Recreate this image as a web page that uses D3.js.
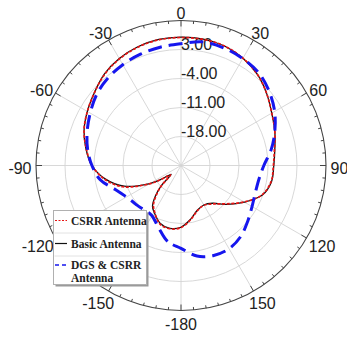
<!DOCTYPE html>
<html>
<head>
<meta charset="utf-8">
<script src="https://cdn.jsdelivr.net/npm/d3@7"></script>
<style>
  html, body { margin: 0; padding: 0; background: #fff; }
  svg { display: block; }
</style>
</head>
<body>
<div id="chart"></div>
<script>
// angles in degrees, 0 at top, clockwise
const angles = [-180, -170, -160, -150, -145, -140, -136, -132, -128, -124, -120, -110, -100, -90,
  -80, -70, -60, -50, -40, -30, -20, -10, 0, 10, 20, 30, 40, 50, 60, 70, 80, 90,
  100, 110, 120, 130, 140, 150, 160, 170];

// gain values (dB)
const csrrValues = [-10.0, -9.5, -10.0, -12.2, -13.4, -15.8, -18.2, -21.6, -20.7, -18.5, -16.1, -10.0, -6.2, -3.5,
  -1.8, -0.1, 1.1, 2.3, 3.7, 4.7, 5.4, 5.8, 5.9, 5.9, 5.7, 4.9, 3.7, 2.0, 0.3, -0.9, -2.1, -2.7,
  -2.9, -4.2, -7.4, -10.6, -12.9, -13.9, -13.4, -11.7];

const basicValues = [-10.1, -9.6, -10.2, -12.0, -13.0, -15.4, -18.0, -21.8, -20.9, -18.7, -16.3, -10.4, -6.4, -3.5,
  -1.7, -0.1, 1.1, 2.3, 3.8, 4.8, 5.5, 5.9, 6.0, 6.0, 5.7, 4.9, 3.7, 2.0, 0.3, -0.9, -2.0, -2.6,
  -2.8, -4.1, -7.3, -10.4, -13.1, -14.0, -13.5, -11.8];

const dgsValues = [-5.0, -6.4, -9.1, -11.0, -11.2, -11.1, -10.9, -10.7, -10.5, -10.2, -9.8, -8.1, -5.2, -3.5,
  -2.1, -0.9, 0.3, 1.6, 2.5, 3.1, 3.6, 4.0, 4.4, 5.3, 5.2, 4.8, 4.2, 2.8, 1.1, -0.9, -2.9, -5.0,
  -5.9, -5.9, -5.2, -4.0, -2.6, -1.8, -1.9, -2.8];

const ringValues = [-18, -11, -4, 3];
const angleTicks = [0, 30, 60, 90, 120, 150, 180, -150, -120, -90, -60, -30];
const angleTickLabels = ["0", "30", "60", "90", "120", "150", "-180", "-150", "-120", "-90", "-60", "-30"];

const legendItems = [
  { name: ["CSRR Antenna"], key: "csrr" },
  { name: ["Basic Antenna"], key: "basic" },
  { name: ["DGS & CSRR", "Antenna"], key: "dgs" },
];

const styles = {
  csrr: { stroke: "#e81414", width: 1.7, dash: "3,1.6" },
  basic: { stroke: "#111", width: 1.3, dash: null },
  dgs: { stroke: "#1616ee", width: 3, dash: "14,7" },
};

const width = 347, height = 338;
const cx = 181, cy = 165.5, outerR = 145;

const svg = d3.select("#chart").append("svg").attr("width", width).attr("height", height);
const g = svg.append("g").attr("transform", `translate(${cx},${cy})`);

const r = d3.scaleLinear().domain([-25, 10]).range([0, outerR]);
const rad = (deg) => (deg * Math.PI) / 180;

// grid rings
g.append("g")
  .selectAll("circle")
  .data(ringValues)
  .join("circle")
  .attr("r", (d) => r(d))
  .attr("fill", "none")
  .attr("stroke", "#d4d4d4")
  .attr("stroke-width", 0.9);

// spokes every 30
g.append("g")
  .selectAll("line")
  .data(d3.range(0, 360, 30))
  .join("line")
  .attr("x1", 0)
  .attr("y1", 0)
  .attr("x2", (d) => outerR * Math.sin(rad(d)))
  .attr("y2", (d) => -outerR * Math.cos(rad(d)))
  .attr("stroke", "#d4d4d4")
  .attr("stroke-width", 0.9);

// outer circle + ticks
g.append("circle").attr("r", outerR).attr("fill", "none").attr("stroke", "#444").attr("stroke-width", 1.1);
g.append("g")
  .selectAll("line")
  .data(d3.range(0, 360, 5))
  .join("line")
  .each(function (d) {
    const len = d % 30 === 0 ? 6 : 3;
    const s = Math.sin(rad(d)), c = Math.cos(rad(d));
    d3.select(this)
      .attr("x1", outerR * s).attr("y1", -outerR * c)
      .attr("x2", (outerR - len) * s).attr("y2", -(outerR - len) * c);
  })
  .attr("stroke", "#444")
  .attr("stroke-width", 1);

// radial labels
g.append("g")
  .selectAll("text")
  .data(ringValues.slice().reverse())
  .join("text")
  .attr("x", 0)
  .attr("y", (d) => -r(d))
  .attr("font-family", "'Liberation Sans', Arial, sans-serif")
  .attr("font-size", 16)
  .attr("fill", "#222")
  .text((d) => d.toFixed(2));

// angle labels
const angLabels = g.append("g")
  .selectAll("text")
  .data(angleTicks)
  .join("text")
  .attr("font-family", "'Liberation Sans', Arial, sans-serif")
  .attr("font-size", 16)
  .attr("fill", "#222")
  .attr("text-anchor", "middle")
  .attr("dominant-baseline", "central")
  .text((d, i) => angleTickLabels[i]);
angLabels.each(function (d) {
  const w = this.getComputedTextLength();
  const s = Math.sin(rad(d)), c = Math.cos(rad(d));
  const r0 = 149.5, h = 12;
  d3.select(this)
    .attr("x", r0 * s + (s * w) / 2)
    .attr("y", -r0 * c - (c * h) / 2 + 3);
});

// curves
const line = d3.lineRadial()
  .angle((d) => rad(d[0]))
  .radius((d) => r(d[1]))
  .curve(d3.curveCatmullRomClosed.alpha(0.5));

const series = [
  { key: "basic", values: basicValues },
  { key: "csrr", values: csrrValues },
  { key: "dgs", values: dgsValues },
];

series.forEach((s) => {
  const st = styles[s.key];
  g.append("path")
    .datum(angles.map((a, i) => [a, s.values[i]]))
    .attr("d", line)
    .attr("fill", "none")
    .attr("stroke", st.stroke)
    .attr("stroke-width", st.width)
    .attr("stroke-dasharray", st.dash);
});

// legend
const lx = 53.5, ly = 210.5, lw = 93, lh = 74;
const legend = svg.append("g");
legend.append("rect").attr("x", lx + 2).attr("y", ly + 2).attr("width", lw).attr("height", lh).attr("fill", "#9a9a9a");
legend.append("rect").attr("x", lx).attr("y", ly).attr("width", lw).attr("height", lh)
  .attr("fill", "#fff").attr("stroke", "#b0b0b0").attr("stroke-width", 1);
[233, 256].forEach((yy) => {
  legend.append("line").attr("x1", lx + 1).attr("x2", lx + lw - 1).attr("y1", yy).attr("y2", yy)
    .attr("stroke", "#e2e2e2").attr("stroke-width", 1);
});
const rowY = [220.5, 243.5, 265];
legendItems.forEach((it, i) => {
  const st = styles[it.key];
  legend.append("line")
    .attr("x1", 55).attr("x2", 67).attr("y1", rowY[i]).attr("y2", rowY[i])
    .attr("stroke", st.stroke)
    .attr("stroke-width", it.key === "dgs" ? 1.4 : 1.2)
    .attr("stroke-dasharray", it.key === "dgs" ? "4,3" : st.dash ? "2,1.5" : null);
  it.name.forEach((t, j) => {
    legend.append("text")
      .attr("x", 71)
      .attr("y", rowY[i] + 4 + j * 12.5)
      .attr("font-family", "'Liberation Serif', 'Times New Roman', serif")
      .attr("font-weight", "bold")
      .attr("font-size", 11.5)
      .attr("fill", "#222")
      .text(t);
  });
});
</script>
</body>
</html>
